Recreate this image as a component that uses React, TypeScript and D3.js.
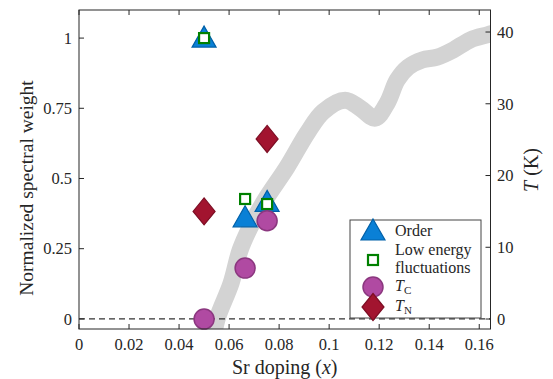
import React from 'react'
import * as d3 from 'd3'

// doping values
const orderX = [0.05, 0.0664, 0.0752]
const orderW = [1.0, 0.36, 0.415]
const flucX = [0.05, 0.0664, 0.0752]
const flucW = [1.0, 0.427, 0.409]
const tcX = [0.05, 0.0664, 0.0752]
const tcT = [0, 7.1, 13.7]
const tnX = [0.05, 0.0752]
const tnT = [15.0, 25.1]

// gray Tc dome (x, T in K)
const domeX = [0.0535, 0.0552, 0.0608, 0.0644, 0.0684, 0.0744, 0.0832, 0.0912, 0.0976, 0.1064, 0.1124, 0.1184, 0.1232, 0.1272, 0.1316, 0.1372, 0.1432, 0.1496, 0.1564, 0.1632, 0.17]
const domeT = [-3, 0, 5.0, 9.6, 12.8, 16.6, 21.2, 25.9, 28.9, 30.5, 29.4, 28.0, 30.1, 33.3, 35.1, 36.1, 36.5, 37.5, 38.9, 39.6, 40.2]

const xTicks = [0, 0.02, 0.04, 0.06, 0.08, 0.1, 0.12, 0.14, 0.16]
const leftTicks = [0, 0.25, 0.5, 0.75, 1]
const rightTicks = [0, 10, 20, 30, 40]

const W = 553, H = 379
const L = 79, R = 490.5, T = 10, B = 329
const font = "'Liberation Serif', 'Times New Roman', 'DejaVu Serif', serif"
const axisCol = '#262626'

const x = d3.scaleLinear().domain([0, 0.1645]).range([L, R])
const yL = d3.scaleLinear().domain([-0.036, 1.1]).range([B, T])
const yR = d3.scaleLinear().domain([-1.39, 43.07]).range([B, T])

const fmt = (v: number) => (v === 0 ? '0' : String(v))

function Tri({ cx, cy }: { cx: number; cy: number }) {
  const p = `M${cx},${cy - 12}L${cx + 12},${cy + 9}L${cx - 12},${cy + 9}Z`
  return <path d={p} fill="#0a80d6" stroke="#0060a8" strokeWidth={1.2} />
}
function Sq({ cx, cy }: { cx: number; cy: number }) {
  return <rect x={cx - 5} y={cy - 5} width={10} height={10} fill="#fff" stroke="#008000" strokeWidth={2.2} />
}
function Circ({ cx, cy }: { cx: number; cy: number }) {
  return <circle cx={cx} cy={cy} r={10} fill="#b04aa2" stroke="#8b377f" strokeWidth={1.5} />
}
function Dia({ cx, cy }: { cx: number; cy: number }) {
  const p = `M${cx},${cy - 13.5}L${cx + 11},${cy}L${cx},${cy + 13.5}L${cx - 11},${cy}Z`
  return <path d={p} fill="#a2142f" stroke="#7d0e24" strokeWidth={1.2} />
}

export default function App() {
  const line = d3.line<number>()
    .x((_, i) => x(domeX[i]))
    .y((d) => yR(d))
    .curve(d3.curveCatmullRom.alpha(0.5))

  const lx = 373
  return (
    <svg width={W} height={H} style={{ position: 'absolute', left: 0, top: 0, background: '#fff', fontFamily: font }}>
      <defs>
        <clipPath id="plot">
          <rect x={L} y={T} width={R - L} height={B - T} />
        </clipPath>
      </defs>
      <g clipPath="url(#plot)">
        <path d={line(domeT) || ''} fill="none" stroke="#d3d3d3" strokeWidth={17} strokeLinecap="round" />
        <line x1={L} x2={R} y1={yL(0)} y2={yL(0)} stroke="#333" strokeWidth={1.2} strokeDasharray="6,4" />
      </g>
      {orderX.map((v, i) => <Tri key={'o' + i} cx={x(v)} cy={yL(orderW[i])} />)}
      {flucX.map((v, i) => <Sq key={'f' + i} cx={x(v)} cy={yL(flucW[i])} />)}
      {tcX.map((v, i) => <Circ key={'c' + i} cx={x(v)} cy={yR(tcT[i])} />)}
      {tnX.map((v, i) => <Dia key={'n' + i} cx={x(v)} cy={yR(tnT[i])} />)}

      {/* frame */}
      <rect x={L} y={T} width={R - L} height={B - T} fill="none" stroke={axisCol} strokeWidth={1} />
      {xTicks.map((t) => (
        <g key={'x' + t}>
          <line x1={x(t)} x2={x(t)} y1={B} y2={B - 5} stroke={axisCol} />
          <line x1={x(t)} x2={x(t)} y1={T} y2={T + 5} stroke={axisCol} />
          <text x={x(t)} y={350} fontSize={16.5} textAnchor="middle" fill="#262626">{fmt(t)}</text>
        </g>
      ))}
      {leftTicks.map((t) => (
        <g key={'l' + t}>
          <line x1={L} x2={L + 5} y1={yL(t)} y2={yL(t)} stroke={axisCol} />
          <text x={72} y={yL(t)} dy="0.35em" fontSize={16.5} textAnchor="end" fill="#262626">{fmt(t)}</text>
        </g>
      ))}
      {rightTicks.map((t) => (
        <g key={'r' + t}>
          <line x1={R} x2={R - 5} y1={yR(t)} y2={yR(t)} stroke={axisCol} />
          <text x={497} y={yR(t)} dy="0.35em" fontSize={16.5} textAnchor="start" fill="#262626">{t}</text>
        </g>
      ))}
      <text x={(L + R) / 2} y={374} fontSize={20} textAnchor="middle" fill="#262626">
        Sr doping (<tspan fontStyle="italic">x</tspan>)
      </text>
      <text transform={`translate(33,${188}) rotate(-90)`} fontSize={19.5} textAnchor="middle" fill="#262626">
        Normalized spectral weight
      </text>
      <text transform={`translate(538,170) rotate(-90)`} fontSize={20} textAnchor="middle" fill="#262626">
        <tspan fontStyle="italic">T</tspan> (K)
      </text>

      {/* legend */}
      <rect x={350} y={220} width={131} height={98} fill="#fff" stroke="#444" strokeWidth={1} />
      <Tri cx={lx} cy={231} />
      <text x={395} y={230} dy="0.35em" fontSize={16} fill="#262626">Order</text>
      <Sq cx={lx} cy={260} />
      <text x={395} y={249} dy="0.35em" fontSize={16} fill="#262626">Low energy</text>
      <text x={395} y={267} dy="0.35em" fontSize={16} fill="#262626">fluctuations</text>
      <Circ cx={lx} cy={287} />
      <text x={395} y={291} fontSize={16} fill="#262626">
        <tspan fontStyle="italic">T</tspan><tspan fontSize={11} dy="3">C</tspan>
      </text>
      <Dia cx={lx} cy={307} />
      <text x={395} y={311} fontSize={16} fill="#262626">
        <tspan fontStyle="italic">T</tspan><tspan fontSize={11} dy="3">N</tspan>
      </text>
    </svg>
  )
}
